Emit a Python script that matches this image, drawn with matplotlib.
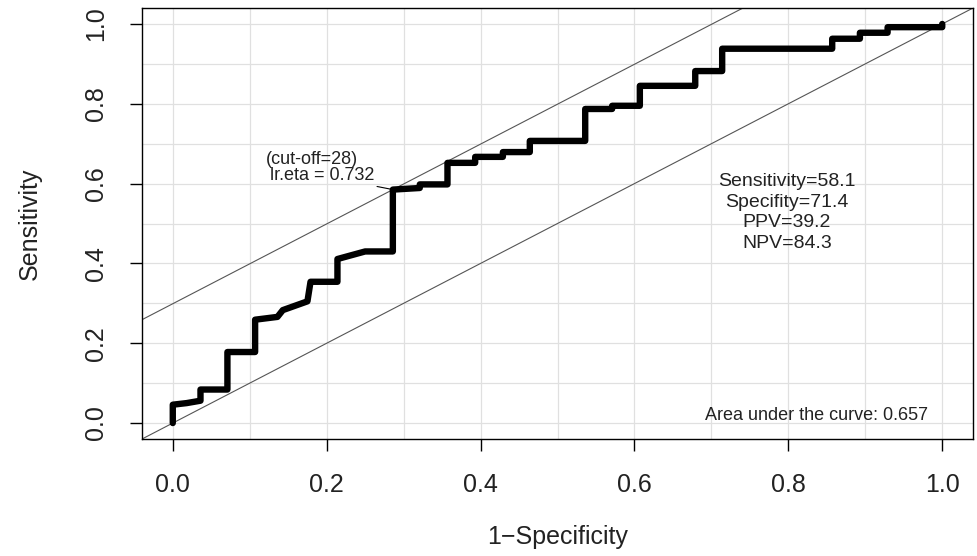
import numpy as np
import matplotlib.pyplot as plt

# ROC path (1-specificity, sensitivity)
fpr = [0.0, 0.0, 0.018, 0.036, 0.036, 0.071, 0.071, 0.107, 0.107, 0.136,
       0.143, 0.175, 0.179, 0.214, 0.214, 0.25, 0.286, 0.286, 0.321, 0.321,
       0.357, 0.357, 0.393, 0.393, 0.429, 0.429, 0.464, 0.464, 0.536, 0.536,
       0.571, 0.571, 0.607, 0.607, 0.679, 0.679, 0.714, 0.714, 0.857, 0.857,
       0.893, 0.893, 0.929, 0.929, 1.0, 1.0]
tpr = [0.0, 0.046, 0.05, 0.056, 0.084, 0.084, 0.178, 0.178, 0.259, 0.266,
       0.283, 0.305, 0.354, 0.354, 0.411, 0.43, 0.43, 0.585, 0.589, 0.598,
       0.598, 0.652, 0.652, 0.667, 0.667, 0.679, 0.679, 0.707, 0.707, 0.787,
       0.787, 0.795, 0.795, 0.845, 0.845, 0.882, 0.882, 0.938, 0.938, 0.963,
       0.963, 0.978, 0.978, 0.992, 0.992, 1.0]

cut_fpr, cut_tpr = 0.286, 0.585
cut_label = "(cut-off=28)"
eta_label = "lr.eta = 0.732"
stats_lines = ["Sensitivity=58.1", "Specifity=71.4", "PPV=39.2", "NPV=84.3"]
auc = 0.657
ticks = [0.0, 0.2, 0.4, 0.6, 0.8, 1.0]

plt.rcParams['font.family'] = ['Liberation Sans', 'DejaVu Sans']

fig = plt.figure(figsize=(9.78, 5.56), dpi=100)
ax = fig.add_axes([0.1452, 0.2104, 0.8497, 0.7752])

ax.set_xlim(-0.04, 1.04)
ax.set_ylim(-0.04, 1.04)
ax.set_xticks(ticks)
ax.set_yticks(ticks)
ax.set_xticklabels([f"{t:.1f}" for t in ticks])
ax.set_yticklabels([f"{t:.1f}" for t in ticks], rotation=90, va='center')
ax.set_xticks(np.arange(0.1, 1.0, 0.2), minor=True)
ax.set_yticks(np.arange(0.1, 1.0, 0.2), minor=True)
ax.tick_params(which='major', length=8.6, width=1, labelsize=18, pad=16,
               labelcolor='#222222')
ax.tick_params(which='minor', length=0)
ax.grid(True, which='both', color='#e0e0e0', lw=0.9)
ax.set_axisbelow(True)
for s in ax.spines.values():
    s.set_linewidth(1)

ax.axline((0, 0), slope=1, color='#555555', lw=0.8)
ax.axline((cut_fpr, cut_tpr), slope=1, color='#555555', lw=0.8)

ax.plot(fpr, tpr, color='black', lw=4.6, solid_capstyle='round',
        solid_joinstyle='round')

ax.text(0.181, 0.66, cut_label, ha='center', va='center', fontsize=13,
        color='#222222')
ax.annotate(eta_label, xy=(cut_fpr, cut_tpr), xytext=(0.194, 0.62),
            ha='center', va='center', fontsize=13, color='#222222',
            arrowprops=dict(arrowstyle='-', lw=0.8, color='black',
                            shrinkA=0, shrinkB=0))

ax.text(0.798, 0.528, "\n".join(stats_lines), ha='center', va='center',
        fontsize=14, linespacing=1.27, color='#222222')
ax.text(0.837, 0.02, f"Area under the curve: {auc}", ha='center',
        va='center', fontsize=13, color='#222222')

ax.set_xlabel("1\u2212Specificity", fontsize=18, color='#222222')
ax.set_ylabel("Sensitivity", fontsize=18, va='center', color='#222222')
ax.xaxis.set_label_coords(0.5, -0.2)
ax.yaxis.set_label_coords(-0.135, 0.5)

fig.savefig("out.png", dpi=100)
